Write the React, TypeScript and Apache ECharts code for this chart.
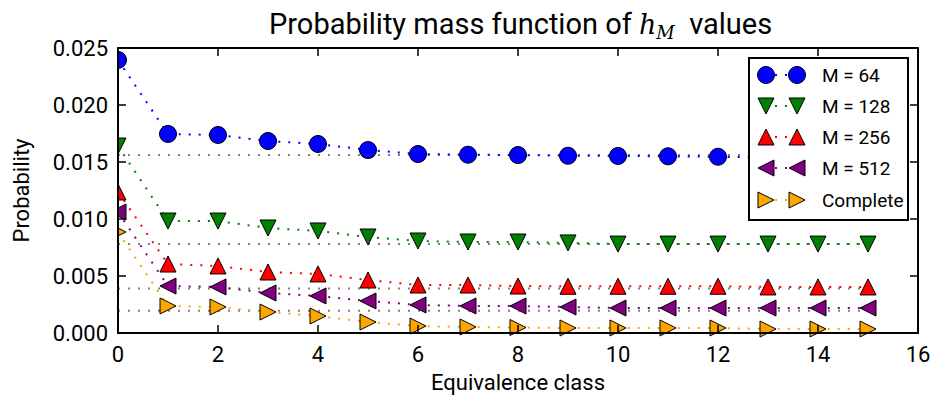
import React, { useEffect, useRef } from "react";
import * as echarts from "echarts";

const classes = [0, 1, 2, 3, 4, 5, 6, 7, 8, 9, 10, 11, 12, 13, 14, 15];
const m64 = [0.02395, 0.01746, 0.01737, 0.01684, 0.01658, 0.01605, 0.0157, 0.01564, 0.01561, 0.01555, 0.01553, 0.0155, 0.01546, 0.0154, 0.0154, 0.0154];
const m128 = [0.0164, 0.00982, 0.00982, 0.00921, 0.00895, 0.00842, 0.00807, 0.00798, 0.00798, 0.0079, 0.0078, 0.0078, 0.0078, 0.0078, 0.0078, 0.0078];
const m256 = [0.01237, 0.00605, 0.00588, 0.00535, 0.00518, 0.00465, 0.00421, 0.00421, 0.00412, 0.0041, 0.0041, 0.0041, 0.0041, 0.00404, 0.00404, 0.00404];
const m512 = [0.01061, 0.00412, 0.00404, 0.00351, 0.00325, 0.00281, 0.00246, 0.00237, 0.00237, 0.00228, 0.00219, 0.00219, 0.00219, 0.00219, 0.00219, 0.00219];
const complete = [0.00886, 0.00237, 0.00228, 0.00184, 0.00149, 0.00096, 0.00061, 0.00053, 0.00048, 0.00044, 0.00044, 0.00044, 0.00044, 0.00035, 0.00035, 0.00035];
const uniformLevels = [0.015625, 0.0078125, 0.00390625, 0.001953125];
const xTicks = { min: 0, max: 16, interval: 2 };
const yTicks = { min: 0, max: 0.025, interval: 0.005 };

const FONT = "Roboto";
const DOT = [2, 8];

type Spec = { name: string; data: number[]; color: string; marker: "circle" | "down" | "up" | "left" | "right" };
const specs: Spec[] = [
  { name: "M = 64", data: m64, color: "#0000ff", marker: "circle" },
  { name: "M = 128", data: m128, color: "#008000", marker: "down" },
  { name: "M = 256", data: m256, color: "#ff0000", marker: "up" },
  { name: "M = 512", data: m512, color: "#800080", marker: "left" },
  { name: "Complete", data: complete, color: "#ffa500", marker: "right" },
];
const rot: Record<string, number> = { circle: 0, down: 180, up: 0, left: 90, right: -90 };

function legendMarker(kind: string, cx: number, cy: number, color: string) {
  const s = 8;
  const style = { fill: color, stroke: "#000", lineWidth: 1 };
  if (kind === "circle") return { type: "circle", shape: { cx, cy, r: 8.5 }, style, z: 102 };
  let pts: number[][] = [];
  if (kind === "down") pts = [[cx - s, cy - s], [cx + s, cy - s], [cx, cy + s]];
  if (kind === "up") pts = [[cx, cy - s], [cx - s, cy + s], [cx + s, cy + s]];
  if (kind === "left") pts = [[cx - s, cy], [cx + s, cy - s], [cx + s, cy + s]];
  if (kind === "right") pts = [[cx + s, cy], [cx - s, cy - s], [cx - s, cy + s]];
  return { type: "polygon", shape: { points: pts }, style, z: 102 };
}

export default function App() {
  const ref = useRef<HTMLDivElement>(null);
  useEffect(() => {
    if (!ref.current) return;
    const chart = echarts.init(ref.current, undefined, { renderer: "svg" });

    const series: any[] = [];
    uniformLevels.forEach((v) => {
      series.push({
        type: "line",
        data: [[classes[0], v], [classes[classes.length - 1], v]],
        symbol: "none",
        silent: true,
        lineStyle: { color: "#808080", width: 2, type: DOT },
        z: 2,
      });
    });
    specs.forEach((sp) => {
      series.push({
        type: "line",
        name: sp.name,
        data: classes.map((c, i) => [c, sp.data[i]]),
        symbol: sp.marker === "circle" ? "circle" : "triangle",
        symbolSize: sp.marker === "circle" ? 17 : 16,
        symbolRotate: rot[sp.marker],
        showAllSymbol: true,
        lineStyle: { color: sp.color, width: 2, type: DOT },
        itemStyle: { color: sp.color, borderColor: "#000", borderWidth: 1 },
        z: 3,
      });
    });

    const lx = 749, ly = 58, lw = 159, lh = 162;
    const rowY = [75, 106, 137, 168, 200];
    const legendEls: any[] = [
      { type: "rect", shape: { x: lx, y: ly, width: lw, height: lh }, style: { fill: "#fff", stroke: "#000", lineWidth: 2 }, z: 100 },
    ];
    specs.forEach((sp, i) => {
      const cy = rowY[i];
      legendEls.push({ type: "line", shape: { x1: 775, y1: cy, x2: 788, y2: cy }, style: { stroke: sp.color, lineWidth: 2, lineDash: DOT }, z: 101 });
      legendEls.push(legendMarker(sp.marker, 766, cy, sp.color));
      legendEls.push(legendMarker(sp.marker, 797, cy, sp.color));
      legendEls.push({ type: "text", x: 822, y: cy, style: { text: sp.name, font: `19px ${FONT}`, fill: "#000", verticalAlign: "middle", align: "left" }, z: 102 });
    });
    // mask to clip markers at the left edge like the reference
    legendEls.push({ type: "rect", shape: { x: 100, y: 40, width: 17, height: 300 }, style: { fill: "#fff" }, z: 50 });

    const axisCommon = {
      type: "value",
      splitLine: { show: false },
      axisLine: { show: true, onZero: false, lineStyle: { color: "#000", width: 2 } },
      axisTick: { show: true, inside: true, length: 8, lineStyle: { color: "#000", width: 1.5 } },
      z: 60,
    };
    const labelStyle = { color: "#000", fontFamily: FONT, fontSize: 22 };

    chart.setOption({
      animation: false,
      backgroundColor: "#fff",
      title: {
        text: "Probability mass function of {m|h}{s|M}  values",
        left: 264,
        top: 2,
        textStyle: {
          fontFamily: FONT,
          fontSize: 29,
          fontWeight: "normal",
          color: "#000",
          rich: {
            m: { fontFamily: "DejaVu Serif", fontStyle: "italic", fontSize: 27, color: "#000" },
            s: { fontFamily: "DejaVu Serif", fontStyle: "italic", fontSize: 18, color: "#000", padding: [16, 0, 0, 0] },
          },
        },
      },
      grid: { left: 118, right: 21, top: 48, bottom: 70, containLabel: false },
      xAxis: [
        {
          ...axisCommon,
          ...xTicks,
          position: "bottom",
          name: "Equivalence class",
          nameLocation: "middle",
          nameGap: 38,
          nameTextStyle: labelStyle,
          axisLabel: { ...labelStyle, margin: 10 },
        },
        { ...axisCommon, ...xTicks, position: "top", axisLabel: { show: false } },
      ],
      yAxis: [
        {
          ...axisCommon,
          ...yTicks,
          position: "left",
          name: "Probability",
          nameLocation: "middle",
          nameGap: 86,
          nameRotate: 90,
          nameTextStyle: labelStyle,
          axisLabel: { ...labelStyle, margin: 10, formatter: (v: number) => v.toFixed(3) },
        },
        { ...axisCommon, ...yTicks, position: "right", axisLabel: { show: false } },
      ],
      graphic: legendEls,
      series,
    });
    return () => chart.dispose();
  }, []);
  return <div ref={ref} style={{ position: "absolute", left: 0, top: 0, width: 939, height: 403 }} />;
}
